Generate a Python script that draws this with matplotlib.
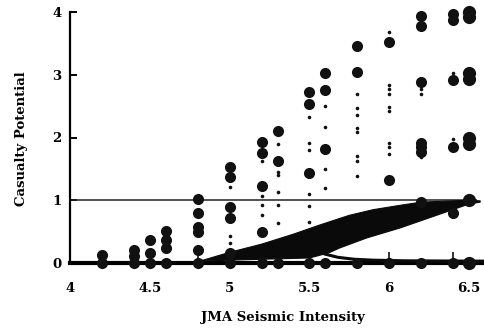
import matplotlib
matplotlib.use("Agg")
import matplotlib.pyplot as plt

# ---- data ----
x_ticks = [4, 4.5, 5, 5.5, 6, 6.5]
x_tick_labels = ["4", "4.5", "5", "5.5", "6", "6.5"]
y_ticks = [0, 1, 2, 3, 4]
y_tick_labels = ["0", "1", "2", "3", "4"]

# large dots: intensity -> casualty potential values
large_dots = {
    4.2: [0.0, 0.12],
    4.4: [0.0, 0.11, 0.2],
    4.5: [0.0, 0.16, 0.37],
    4.6: [0.0, 0.24, 0.37, 0.51],
    4.8: [0.0, 0.2, 0.5, 0.58, 0.8, 1.02],
    5.0: [0.0, 0.16, 0.71, 0.89, 1.37, 1.53],
    5.2: [0.0, 0.49, 1.22, 1.75, 1.93],
    5.3: [0.0, 1.63, 2.1],
    5.5: [0.0, 1.43, 2.53, 2.73],
    5.6: [0.0, 1.82, 2.76, 3.03],
    5.8: [0.0, 3.05, 3.46],
    6.0: [0.0, 1.32, 3.52],
    6.2: [0.0, 0.97, 1.77, 1.85, 1.91, 2.89, 3.78, 3.93],
    6.4: [0.0, 0.8, 1.85, 2.92, 3.87, 3.97],
    6.5: [0.0, 1.0, 1.9, 2.0, 2.93, 3.02, 3.92, 4.0],
}
# small dots
small_dots = {
    5.0: [0.32, 0.43, 1.21],
    5.2: [0.76, 0.92, 1.07, 1.62],
    5.3: [0.64, 0.92, 1.13, 1.41, 1.45, 1.9],
    5.5: [0.65, 0.91, 1.1, 1.8, 1.91, 2.32],
    5.6: [1.2, 1.5, 2.17, 2.5],
    5.8: [1.39, 1.63, 1.71, 2.09, 2.15, 2.36, 2.47, 2.69],
    6.0: [1.74, 1.85, 1.91, 2.42, 2.49, 2.69, 2.77, 2.84, 3.68],
    6.2: [1.69, 2.69, 2.77],
    6.4: [1.98, 3.02],
}
# short vertical marks just above the baseline
tick_marks_x = [4.8, 6.0, 6.4]
tick_marks_lo = [0.05, 0.04, 0.04]
tick_marks_hi = [0.17, 0.17, 0.17]

# dense band of curves (envelope)
band_upper_x = [4.8, 5.0, 5.2, 5.4, 5.57, 5.75, 5.9, 6.07, 6.2, 6.5, 6.57]
band_upper_y = [0.02, 0.17, 0.3, 0.46, 0.61, 0.76, 0.85, 0.92, 0.97, 1.0, 0.99]
band_lower_x = [6.57, 6.5, 6.07, 5.86, 5.69, 5.62, 5.5, 5.2, 4.8]
band_lower_y = [0.97, 0.94, 0.56, 0.40, 0.24, 0.16, 0.08, 0.06, 0.03]
tail_x = [5.6, 5.68, 5.78, 5.9, 6.1, 6.5, 6.6]
tail_y = [0.14, 0.09, 0.06, 0.045, 0.035, 0.03, 0.03]

ref_level = 1.0

# ---- figure ----
fig = plt.figure(figsize=(4.84, 3.29), dpi=100)
ax = fig.add_axes([70 / 484, 66 / 329, 415 / 484, 251 / 329])
ax.set_xlim(4, 6.6)
ax.set_ylim(0, 4)

ax.hlines(ref_level, 4, 6.55, color="#222222", lw=1.1, zorder=2)

poly_x = band_upper_x + band_lower_x
poly_y = band_upper_y + band_lower_y
ax.fill(poly_x, poly_y, color="#0a0a0a", lw=0.8, ec="#0a0a0a", zorder=3)
ax.plot(tail_x, tail_y, color="#0a0a0a", lw=2.2, zorder=3, clip_on=False)
ax.vlines(tick_marks_x, tick_marks_lo, tick_marks_hi, color="#111111",
          lw=1.2, zorder=3)

for xv, ys in large_dots.items():
    ms = 9.5 if xv == 6.5 else 8
    ax.plot([xv] * len(ys), ys, "o", color="#111111", ms=ms, mew=0,
            zorder=4, clip_on=False)
for xv, ys in small_dots.items():
    ax.plot([xv] * len(ys), ys, "o", color="#111111", ms=2.6, mew=0,
            zorder=4, clip_on=False)

for s in ["top", "right"]:
    ax.spines[s].set_visible(False)
ax.spines["left"].set_linewidth(1.6)
ax.spines["bottom"].set_linewidth(3.0)
ax.spines["left"].set_bounds(0, 4)

font = dict(family="DejaVu Serif", weight="bold", size=9.5)
ax.set_xticks(x_ticks)
ax.set_xticklabels(x_tick_labels, **font)
ax.set_yticks(y_ticks)
ax.set_yticklabels(y_tick_labels, **font)
ax.tick_params(axis="x", length=0, pad=14)
ax.tick_params(axis="y", direction="in", length=5, width=1.4, pad=6)

fig.text(283 / 484, 1 - 318 / 329, "JMA Seismic Intensity", ha="center",
         va="center", **font)
fig.text(22 / 484, 1 - 139 / 329, "Casualty Potential", ha="center",
         va="center", rotation=90, **font)

fig.savefig("out.png", dpi=100)
